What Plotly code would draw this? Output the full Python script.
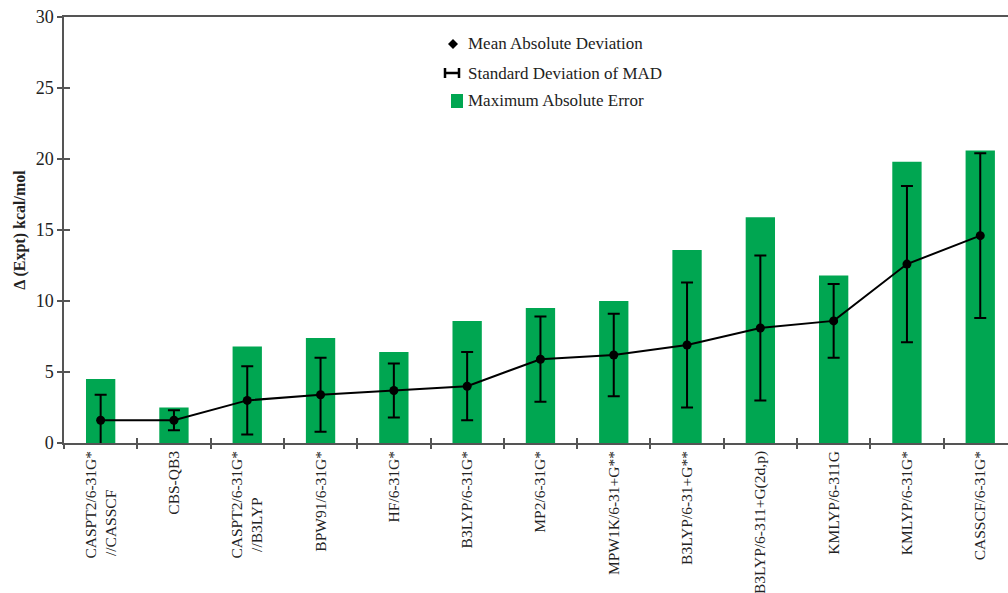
import plotly.graph_objects as go

NB = "\u00a0"

# Methods compared against experiment (second lines padded so they sit centred)
methods = [
    "CASPT2/6-31G*<br>//CASSCF" + NB * 10,
    "CBS-QB3",
    "CASPT2/6-31G*<br>//B3LYP" + NB * 12,
    "BPW91/6-31G*",
    "HF/6-31G*",
    "B3LYP/6-31G*",
    "MP2/6-31G*",
    "MPW1K/6-31+G**",
    "B3LYP/6-31+G**",
    "B3LYP/6-311+G(2d,p)",
    "KMLYP/6-311G",
    "KMLYP/6-31G*",
    "CASSCF/6-31G*",
]

# Maximum absolute error (kcal/mol)
max_abs_error = [4.5, 2.5, 6.8, 7.4, 6.4, 8.6, 9.5, 10.0, 13.6, 15.9, 11.8, 19.8, 20.6]

# Mean absolute deviation (kcal/mol)
mad = [1.6, 1.6, 3.0, 3.4, 3.7, 4.0, 5.9, 6.2, 6.9, 8.1, 8.6, 12.6, 14.6]

# Standard deviation of the MAD (kcal/mol)
mad_std = [1.8, 0.7, 2.4, 2.6, 1.9, 2.4, 3.0, 2.9, 4.4, 5.1, 2.6, 5.5, 5.8]

GREEN = "#00A651"
AXIS = "#555555"
TEXT = "#222222"
SERIF = "Liberation Serif"

W, H = 1008, 593
L, T, B = 64, 17, 150
plot_w = W - L
plot_h = H - T - B

fig = go.Figure()

# bars on the base axes
fig.add_trace(go.Bar(
    x=methods, y=max_abs_error,
    marker=dict(color=GREEN, line=dict(width=0)),
    width=0.4, showlegend=False,
))

# mean line with error bars on the overlaid axes (drawn above the bars)
fig.add_trace(go.Scatter(
    x=methods, y=mad,
    xaxis="x2", yaxis="y2",
    mode="lines+markers",
    line=dict(color="black", width=2),
    marker=dict(color="black", size=9),
    error_y=dict(type="data", array=mad_std, color="black",
                 thickness=2, width=6, visible=True),
    showlegend=False,
))

# category spacing in pixels sets how much of the last slot is visible
spacing = 73.3
x_range = [-0.5, -0.5 + plot_w / spacing]
y_range = [0, 30]

fig.update_layout(
    width=W, height=H,
    margin=dict(l=L, r=0, t=T, b=B, pad=0),
    paper_bgcolor="white", plot_bgcolor="white",
    font=dict(family=SERIF, color=TEXT),
    xaxis=dict(
        type="category",
        range=x_range, automargin=False,
        showline=True, linecolor=AXIS, linewidth=1.5,
        mirror=True,
        ticks="outside", ticklen=4, tickcolor=AXIS, tickwidth=1.5,
        tickson="boundaries",
        tickangle=-90,
        tickfont=dict(family=SERIF, size=15.5, color=TEXT),
        showgrid=False,
    ),
    # overlaid x axis adds the upper half of the crossing tick marks
    xaxis2=dict(
        type="category", overlaying="x", anchor="y2",
        categoryorder="array", categoryarray=methods,
        range=x_range, automargin=False,
        ticks="inside", ticklen=5, tickcolor=AXIS, tickwidth=1.5,
        tickson="boundaries", showticklabels=False,
        showline=False, showgrid=False,
    ),
    yaxis=dict(
        range=y_range, dtick=5, automargin=False,
        showline=True, linecolor=AXIS, linewidth=1.5,
        ticks="outside", ticklen=5, tickcolor=AXIS, tickwidth=1.5,
        tickfont=dict(family=SERIF, size=18, color=TEXT),
        showgrid=False, zeroline=False,
        title=dict(text="<b>Δ (Expt) kcal/mol</b>",
                   font=dict(family=SERIF, size=16, color=TEXT),
                   standoff=6),
    ),
    yaxis2=dict(
        overlaying="y", anchor="x2", side="left",
        range=y_range, dtick=5, automargin=False,
        ticks="inside", ticklen=6, tickcolor=AXIS, tickwidth=1.5,
        showticklabels=False, showline=False, showgrid=False,
        zeroline=False,
    ),
)

# Legend drawn as text plus pixel-sized glyphs
def px_x(px):
    return (px - L) / plot_w

def px_y(py):
    return (H - B - py) / plot_h

legend_rows = [
    ("Mean Absolute Deviation", 43),
    ("Standard Deviation of MAD", 73),
    ("Maximum Absolute Error", 101),
]
for text, py in legend_rows:
    fig.add_annotation(
        xref="paper", yref="paper", x=px_x(466), y=px_y(py),
        xanchor="left", yanchor="middle", showarrow=False,
        text=text, font=dict(family=SERIF, size=17, color=TEXT),
    )

# diamond for the mean
fig.add_shape(
    type="path", xref="paper", yref="paper",
    xsizemode="pixel", ysizemode="pixel",
    xanchor=px_x(453), yanchor=px_y(44),
    path="M 0,5 L 5,0 L 0,-5 L -5,0 Z",
    fillcolor="black", line=dict(color="black", width=0),
)
# error-bar glyph
fig.add_shape(
    type="path", xref="paper", yref="paper",
    xsizemode="pixel", ysizemode="pixel",
    xanchor=px_x(452), yanchor=px_y(73),
    path="M -7,5 L -7,-5 M -7,0 L 7,0 M 7,5 L 7,-5",
    line=dict(color="black", width=2.5),
)
# green square for the maximum error bars
fig.add_shape(
    type="rect", xref="paper", yref="paper",
    xsizemode="pixel", ysizemode="pixel",
    xanchor=px_x(457), yanchor=px_y(101),
    x0=-6, x1=6, y0=-7, y1=7,
    fillcolor=GREEN, line=dict(width=0),
)

fig.write_html("out.html")
